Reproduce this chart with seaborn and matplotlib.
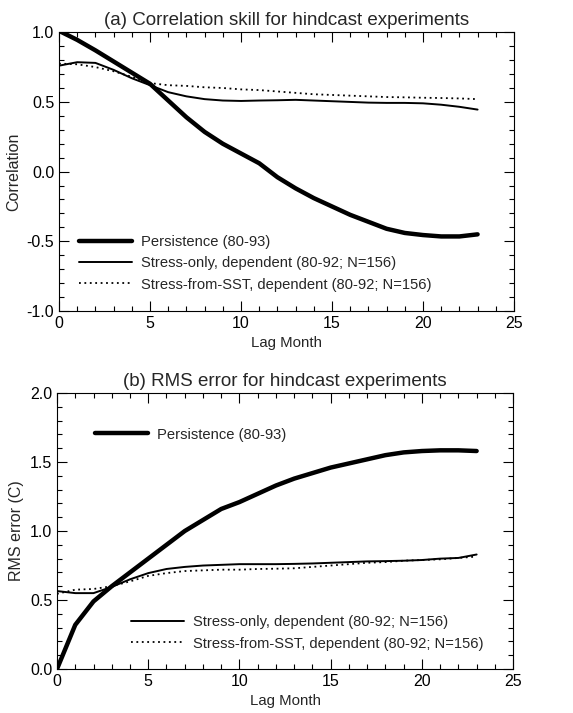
import numpy as np
import pandas as pd
import matplotlib
matplotlib.use("Agg")
import matplotlib.pyplot as plt
from matplotlib.ticker import MultipleLocator
from matplotlib.lines import Line2D
import seaborn as sns

lags = list(range(24))

corr_persist = [1.01, 0.945, 0.87, 0.79, 0.71, 0.63, 0.51, 0.39, 0.285, 0.20, 0.13, 0.06,
                -0.04, -0.12, -0.19, -0.25, -0.31, -0.36, -0.41, -0.44, -0.455, -0.465, -0.465, -0.45]
corr_stress = [0.76, 0.785, 0.78, 0.73, 0.67, 0.62, 0.57, 0.54, 0.52, 0.51, 0.507, 0.51,
               0.512, 0.515, 0.51, 0.505, 0.50, 0.495, 0.493, 0.493, 0.49, 0.48, 0.465, 0.445]
corr_sst = [0.775, 0.77, 0.75, 0.72, 0.68, 0.635, 0.62, 0.615, 0.605, 0.60, 0.59, 0.585,
            0.575, 0.565, 0.555, 0.55, 0.545, 0.54, 0.535, 0.533, 0.53, 0.528, 0.525, 0.52]

rms_persist = [0.0, 0.32, 0.49, 0.60, 0.70, 0.80, 0.90, 1.0, 1.08, 1.16, 1.21, 1.27,
               1.33, 1.38, 1.42, 1.46, 1.49, 1.52, 1.55, 1.57, 1.58, 1.585, 1.585, 1.58]
rms_stress = [0.565, 0.55, 0.55, 0.595, 0.65, 0.695, 0.725, 0.74, 0.75, 0.755, 0.76, 0.76,
              0.76, 0.762, 0.765, 0.77, 0.775, 0.78, 0.782, 0.785, 0.79, 0.80, 0.805, 0.83]
rms_sst = [0.545, 0.575, 0.58, 0.60, 0.635, 0.675, 0.695, 0.71, 0.715, 0.72, 0.72, 0.725,
           0.727, 0.73, 0.74, 0.75, 0.76, 0.77, 0.775, 0.785, 0.79, 0.795, 0.805, 0.815]

labels = ["Persistence (80-93)",
          "Stress-only, dependent (80-92; N=156)",
          "Stress-from-SST, dependent (80-92; N=156)"]

sns.set_theme(style="ticks")
plt.rcParams['font.family'] = ['Liberation Sans', 'DejaVu Sans']
plt.rcParams['axes.unicode_minus'] = False

fig = plt.figure(figsize=(5.73, 7.13), dpi=100)
ax1 = fig.add_axes([0.103, 0.5638, 0.794, 0.391])
ax2 = fig.add_axes([0.0995, 0.0617, 0.796, 0.387])

styles = [dict(lw=3.2, ls='-'), dict(lw=1.4, ls='-'), dict(lw=1.3, ls=(0, (1, 2)))]

def draw(ax, series):
    for vals, st in zip(series, styles):
        sns.lineplot(x=lags, y=vals, ax=ax, color='black', linewidth=st['lw'],
                     linestyle=st['ls'], legend=False)

draw(ax1, [corr_persist, corr_stress, corr_sst])
draw(ax2, [rms_persist, rms_stress, rms_sst])

for ax in (ax1, ax2):
    ax.set_xlim(0, 25)
    ax.xaxis.set_major_locator(MultipleLocator(5))
    ax.xaxis.set_minor_locator(MultipleLocator(1))
    ax.yaxis.set_major_locator(MultipleLocator(0.5))
    ax.yaxis.set_minor_locator(MultipleLocator(0.1))
    ax.tick_params(which='both', direction='in', top=True, right=True, labelsize=11.5,
                   color='black', labelcolor='black', width=0.8)
    ax.tick_params(which='major', length=7)
    ax.tick_params(which='minor', length=3.5)
    for s in ax.spines.values():
        s.set_linewidth(0.8)
        s.set_color('black')
    ax.set_xlabel("Lag Month", fontsize=10.8, labelpad=4)
    ax.yaxis.set_major_formatter(matplotlib.ticker.FormatStrFormatter('%.1f'))

ax1.set_ylim(-1.0, 1.0)
ax1.set_ylabel("Correlation", fontsize=11.5, labelpad=4)
ax1.set_title("(a) Correlation skill for hindcast experiments", fontsize=13.5, pad=5)

ax2.set_ylim(0.0, 2.0)
ax2.set_ylabel("RMS error (C)", fontsize=11.5, labelpad=4)
ax2.set_title("(b) RMS error for hindcast experiments", fontsize=13.5, pad=5)

handles = [Line2D([], [], color='black', linewidth=st['lw'], linestyle=st['ls']) for st in styles]

leg_kw = dict(frameon=False, fontsize=10.6, handlelength=3.6, handletextpad=0.6,
              labelspacing=0.5, borderpad=0, borderaxespad=0)
ax1.legend(handles, labels, loc='upper left', bbox_to_anchor=(0.045, 0.273), **leg_kw)

l1 = ax2.legend(handles[:1], labels[:1], loc='upper left', bbox_to_anchor=(0.083, 0.875), **leg_kw)
ax2.add_artist(l1)
ax2.legend(handles[1:], labels[1:], loc='upper left', bbox_to_anchor=(0.163, 0.195), **leg_kw)

fig.savefig("out.png", dpi=100, facecolor='white')
